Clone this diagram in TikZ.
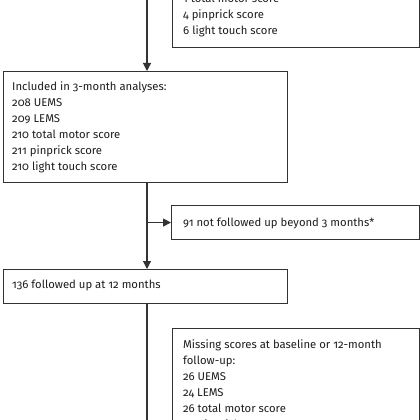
\documentclass[tikz,border=0pt]{standalone}
\usepackage{fontspec}
\setmainfont[Numbers=OldStyle]{Fira Sans}
\usetikzlibrary{arrows.meta}
\definecolor{linec}{HTML}{333333}
\definecolor{textc}{HTML}{1E1E1E}
\tikzset{
  boxframe/.style={draw=linec, line width=1.1pt, rectangle, inner sep=0pt},
  boxtext/.style={anchor=base west, inner sep=0pt, text=textc, font=\fontsize{11.3}{16}\selectfont},
  flow/.style={draw=linec, line width=1.1pt, -{Triangle[length=8pt,width=8pt]}},
  plain/.style={draw=linec, line width=1.1pt}
}
\newcommand{\lines}[1]{\begin{tabular}[t]{@{}l@{}}#1\end{tabular}}
\begin{document}
\begin{tikzpicture}[x=1pt,y=-1pt]
\useasboundingbox (0,0) rectangle (420,420);
\clip (0,0) rectangle (420,420);
\fill[white] (0,0) rectangle (420,420);
% boxes (frames)
\node[boxframe, anchor=north west, minimum width=247pt, minimum height=107pt] (b1) at (172,-60) {};
\node[boxframe, anchor=north west, minimum width=284pt, minimum height=111pt] (b2) at (3,71) {};
\node[boxframe, anchor=north west, minimum width=248pt, minimum height=34pt] (b4) at (171,205) {};
\node[boxframe, anchor=north west, minimum width=284pt, minimum height=34pt] (b3) at (3,269) {};
\node[boxframe, anchor=north west, minimum width=247pt, minimum height=140pt] (b5) at (172,328) {};
% texts
\node[boxtext] (t1) at (183,3) {\lines{1 total motor score\\4 pinprick score\\6 light touch score}};
\node[boxtext] (t2) at (12,90) {\lines{Included in 3-month analyses:\\208 UEMS\\209 LEMS\\210 total motor score\\211 pinprick score\\210 light touch score}};
\node[boxtext] (t4) at (183,226) {91 not followed up beyond 3 months*};
\node[boxtext] (t3) at (12,288) {136 followed up at 12 months};
\node[boxtext] (t5) at (183,348) {\lines{Missing scores at baseline or 12-month\\follow-up:\\26 UEMS\\24 LEMS\\26 total motor score\\26 pinprick score}};
% connectors
\coordinate (top) at (147,-10);
\coordinate (bottom) at (147,430);
\coordinate (split) at (top |- b4.west);
\draw[flow] (top) -- (b2.north -| top);
\draw[flow] (b2.south -| top) -- (b3.north -| top);
\draw[flow] (split) -- (b4.west);
\draw[plain] (b3.south -| top) -- (bottom);
\end{tikzpicture}
\end{document}
